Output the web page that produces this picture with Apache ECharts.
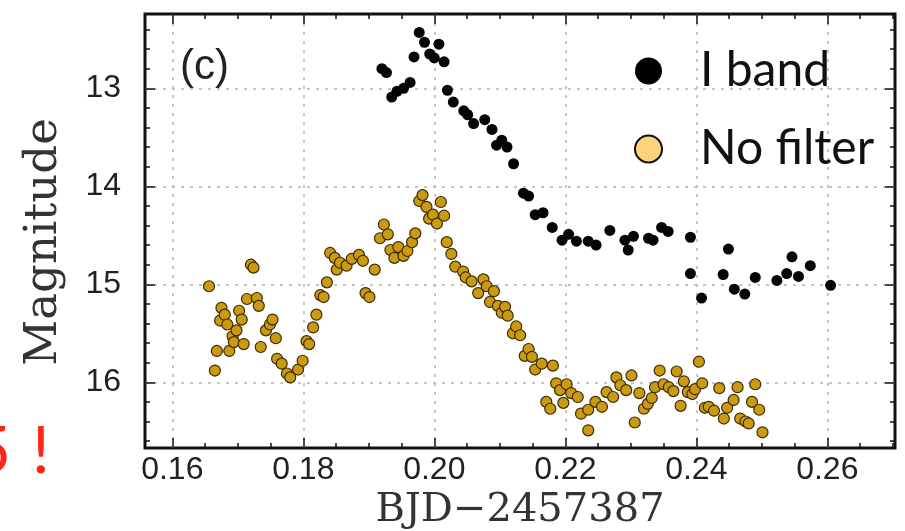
<!DOCTYPE html>
<html>
<head>
<meta charset="utf-8">
<script src="https://cdn.jsdelivr.net/npm/echarts@6/dist/echarts.min.js"></script>
<style>
  html, body { margin: 0; padding: 0; background: #fff; }
  #chart { width: 905px; height: 531px; }
</style>
</head>
<body>
<div id="chart"></div>
<script>
// Tick labels
const xTicks = [0.16, 0.18, 0.20, 0.22, 0.24, 0.26];
const yTicks = [13, 14, 15, 16];

// I band light curve (BJD-2457387, magnitude)
const iBandTime = [
  0.1920, 0.1927, 0.1935, 0.1943, 0.1953, 0.1963, 0.1969, 0.1977, 0.1985, 0.1993,
  0.2000, 0.2007, 0.2015, 0.2020, 0.2029, 0.2045, 0.2051, 0.2060, 0.2077, 0.2088,
  0.2095, 0.2103, 0.2111, 0.2121, 0.2136, 0.2144, 0.2154, 0.2166, 0.2180, 0.2195,
  0.2205, 0.2217, 0.2235, 0.2247, 0.2268, 0.2291, 0.2296, 0.2304, 0.2327, 0.2334,
  0.2347, 0.2357, 0.2391, 0.2391, 0.2408, 0.2441, 0.2449, 0.2458, 0.2474, 0.2490,
  0.2523, 0.2538, 0.2546, 0.2556, 0.2574, 0.2605
];
const iBandMag = [
  12.80, 12.84, 13.09, 13.03, 13.00, 12.94, 12.68, 12.43, 12.53, 12.65,
  12.69, 12.55, 12.73, 13.02, 13.14, 13.23, 13.27, 13.36, 13.32, 13.42,
  13.58, 13.53, 13.60, 13.77, 14.07, 14.10, 14.29, 14.27, 14.42, 14.55,
  14.49, 14.56, 14.56, 14.60, 14.45, 14.55, 14.65, 14.51, 14.53, 14.55,
  14.42, 14.46, 14.52, 14.89, 15.14, 14.90, 14.64, 15.05, 15.10, 14.93,
  14.96, 14.89, 14.72, 14.92, 14.81, 15.01
];

// Unfiltered light curve
const noFilterTime = [
  0.1656, 0.1665, 0.1668, 0.1673, 0.1675, 0.1680, 0.1684, 0.1687, 0.1692, 0.1694,
  0.1698, 0.1702, 0.1706, 0.1709, 0.1714, 0.1720, 0.1724, 0.1729, 0.1732, 0.1735,
  0.1743, 0.1749, 0.1753, 0.1758, 0.1760, 0.1767, 0.1775, 0.1780, 0.1792, 0.1799,
  0.1805, 0.1809, 0.1815, 0.1820, 0.1826, 0.1831, 0.1836, 0.1841, 0.1848, 0.1851,
  0.1856, 0.1866, 0.1874, 0.1885, 0.1891, 0.1895, 0.1901, 0.1909, 0.1917, 0.1923,
  0.1929, 0.1933, 0.1939, 0.1945, 0.1953, 0.1959, 0.1966, 0.1971, 0.1977, 0.1982,
  0.1988, 0.1992, 0.1998, 0.2004, 0.2010, 0.2015, 0.2019, 0.2026, 0.2032, 0.2044,
  0.2048, 0.2057, 0.2067, 0.2075, 0.2080, 0.2085, 0.2091, 0.2097, 0.2103, 0.2108,
  0.2112, 0.2120, 0.2125, 0.2131, 0.2138, 0.2144, 0.2149, 0.2154, 0.2164, 0.2171,
  0.2177, 0.2181, 0.2186, 0.2192, 0.2197, 0.2202, 0.2209, 0.2219, 0.2224, 0.2235,
  0.2235, 0.2246, 0.2256, 0.2263, 0.2273, 0.2278, 0.2284, 0.2293, 0.2301, 0.2306,
  0.2313, 0.2320, 0.2326, 0.2332, 0.2337, 0.2344, 0.2350, 0.2358, 0.2365, 0.2370,
  0.2376, 0.2381, 0.2387, 0.2394, 0.2398, 0.2404, 0.2409, 0.2413, 0.2419, 0.2427,
  0.2435, 0.2442, 0.2447, 0.2457, 0.2463, 0.2467, 0.2475, 0.2480, 0.2485, 0.2490,
  0.2496, 0.2501
];
const noFilterMag = [
  15.02, 15.88, 15.68, 15.37, 15.24, 15.31, 15.41, 15.68, 15.53, 15.59,
  15.47, 15.27, 15.36, 15.61, 15.15, 14.80, 14.83, 15.14, 15.22, 15.64,
  15.47, 15.41, 15.36, 15.55, 15.76, 15.81, 15.91, 15.95, 15.87, 15.78,
  15.58, 15.61, 15.44, 15.31, 15.11, 15.13, 14.98, 14.68, 14.73, 14.85,
  14.78, 14.81, 14.74, 14.70, 14.76, 15.09, 15.13, 14.85, 14.53, 14.39,
  14.49, 14.65, 14.73, 14.62, 14.71, 14.66, 14.57, 14.48, 14.15, 14.09,
  14.21, 14.33, 14.29, 14.38, 14.16, 14.30, 14.57, 14.69, 14.82, 14.87,
  14.93, 14.97, 15.09, 14.95, 15.02, 15.18, 15.07, 15.22, 15.29, 15.23,
  15.32, 15.50, 15.43, 15.52, 15.73, 15.66, 15.74, 15.87, 15.81, 16.20,
  16.27, 15.83, 16.01, 16.08, 16.21, 16.02, 16.11, 16.15, 16.32, 16.28,
  16.49, 16.20, 16.25, 16.10, 16.15, 15.95, 16.03, 16.08, 15.93, 16.41,
  16.11, 16.27, 16.22, 16.16, 16.05, 15.88, 16.02, 16.05, 16.09, 15.89,
  16.24, 15.99, 16.10, 16.12, 16.07, 15.79, 16.01, 16.26, 16.25, 16.29,
  16.06, 16.37, 16.26, 16.18, 16.05, 16.37, 16.40, 16.42, 16.20, 16.02,
  16.28, 16.51
];

// Axis ranges
const X_MIN = 0.155832, X_MAX = 0.270332;
const Y_MIN = 12.2418, Y_MAX = 16.6704;

// Minor tick positions (every 0.005 d and 0.2 mag)
const xMinor = [];
for (let k = 32; k <= 54; k++) xMinor.push(+(k * 0.005).toFixed(3));
const yMinor = [];
for (let k = 62; k <= 83; k++) yMinor.push(+(k * 0.2).toFixed(1));

const tickLine = { color: '#111', width: 1.5 };
const gridDash = { color: '#b5b5b5', width: 1.5, type: [3, 6] };
const serif = 'DejaVu Serif';

function xAxisDef(position, ticks, len, main) {
  return {
    type: 'value', position: position, offset: 0,
    min: X_MIN, max: X_MAX,
    axisLine: { show: false, onZero: false },
    axisTick: { show: true, inside: true, length: len, customValues: ticks, lineStyle: tickLine },
    axisLabel: main ? {
      show: true, customValues: ticks, margin: 6,
      formatter: v => v.toFixed(2),
      fontFamily: 'Liberation Sans', fontSize: 32, color: '#222'
    } : { show: false },
    splitLine: main ? { show: true, lineStyle: gridDash } : { show: false },
    name: main ? 'BJD\u22122457387' : '',
    nameLocation: 'middle', nameGap: 42,
    nameTextStyle: { fontFamily: serif, fontSize: 40, color: '#333' }
  };
}

function yAxisDef(position, ticks, len, main) {
  return {
    type: 'value', position: position, offset: 0, inverse: true,
    min: Y_MIN, max: Y_MAX,
    axisLine: { show: false, onZero: false },
    axisTick: { show: true, inside: true, length: len, customValues: ticks, lineStyle: tickLine },
    axisLabel: main ? {
      show: true, customValues: ticks, margin: 24,
      formatter: v => String(v),
      fontFamily: 'Liberation Sans', fontSize: 32, color: '#222'
    } : { show: false },
    splitLine: main ? { show: true, lineStyle: gridDash } : { show: false },
    name: main ? 'Magnitude' : '',
    nameLocation: 'middle', nameGap: 78,
    nameTextStyle: { fontFamily: serif, fontSize: 45, color: '#333', padding: [0, 22, 0, 0] }
  };
}

const chart = echarts.init(document.getElementById('chart'), null, { renderer: 'canvas' });

chart.setOption({
  animation: false,
  backgroundColor: '#fff',
  grid: {
    left: 145, top: 14, width: 750, height: 434,
    outerBoundsMode: 'none', containLabel: false,
    show: true, borderColor: '#111', borderWidth: 3, backgroundColor: 'transparent'
  },
  xAxis: [
    xAxisDef('bottom', xTicks, 10, true),
    xAxisDef('bottom', xMinor, 5, false),
    xAxisDef('top', xTicks, 10, false),
    xAxisDef('top', xMinor, 5, false)
  ],
  yAxis: [
    yAxisDef('left', yTicks, 10, true),
    yAxisDef('left', yMinor, 5, false),
    yAxisDef('right', yTicks, 10, false),
    yAxisDef('right', yMinor, 5, false)
  ],
  legend: {
    left: 634, top: 47, orient: 'vertical', padding: 0,
    itemWidth: 27, itemHeight: 27, itemGap: 30,
    icon: 'circle',
    textStyle: { fontFamily: 'Lato', fontSize: 48, color: '#111', lineHeight: 40, padding: [0, 0, 0, 33] },
    data: [
      { name: 'I band', itemStyle: { color: '#000', borderColor: '#000', borderWidth: 0 } },
      { name: 'No filter', itemStyle: { color: '#fdd27c', borderColor: '#111', borderWidth: 2 } }
    ]
  },
  series: [
    {
      name: 'I band', type: 'scatter', xAxisIndex: 0, yAxisIndex: 0,
      symbol: 'circle', symbolSize: 11,
      itemStyle: { color: '#050505', opacity: 1 },
      data: iBandTime.map((t, i) => [t, iBandMag[i]])
    },
    {
      name: 'No filter', type: 'scatter', xAxisIndex: 0, yAxisIndex: 0,
      symbol: 'circle', symbolSize: 11,
      itemStyle: { color: '#c99a12', borderColor: '#3d2c00', borderWidth: 1.2, opacity: 1 },
      data: noFilterTime.map((t, i) => [t, noFilterMag[i]])
    }
  ],
  graphic: [
    {
      type: 'text', left: 180, top: 46,
      style: { text: '(c)', fontFamily: 'Liberation Sans', fontSize: 42, fill: '#222' }
    },
    {
      type: 'text', x: 11, y: 452,
      style: { text: '5', fontFamily: 'Lato', fontSize: 66, fill: '#ff2414', align: 'right', verticalAlign: 'middle' }
    },
    {
      type: 'text', x: 41, y: 452,
      style: { text: '!', fontFamily: 'Lato', fontSize: 66, fill: '#ff2414', align: 'center', verticalAlign: 'middle' }
    }
  ]
});
</script>
</body>
</html>
